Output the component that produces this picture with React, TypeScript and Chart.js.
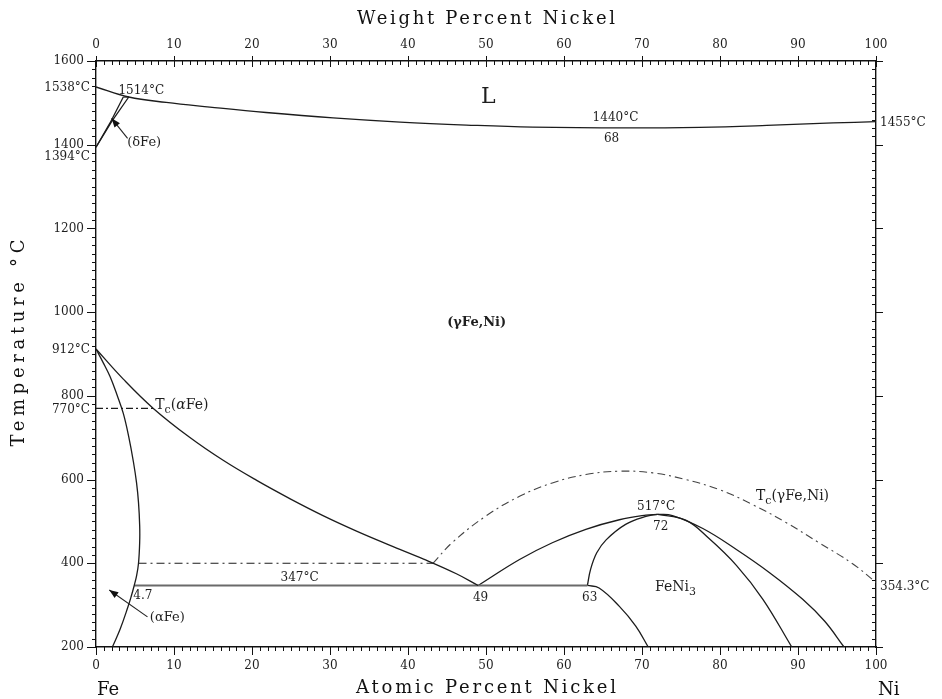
import React, { useEffect, useRef } from 'react';
import { Chart, registerables } from 'chart.js';

Chart.register(...registerables);

type P = [number, number];

// ---- axes ----
const ATOMIC_TICKS = [0, 10, 20, 30, 40, 50, 60, 70, 80, 90, 100];
const WEIGHT_TICKS = [0, 10, 20, 30, 40, 50, 60, 70, 80, 90, 100];
const TEMP_TICKS = [200, 400, 600, 800, 1000, 1200, 1400, 1600];
const X_MINOR_STEP = 1;
const T_MINOR_STEP = 20;

// ---- phase boundaries (at.% Ni, °C) ----
const liquidus: P[] = [[0, 1538], [4.2, 1514], [9, 1501], [14.6, 1490], [21.8, 1477], [30.4, 1464], [39, 1454], [47.5, 1447], [56, 1442], [68, 1440], [77.4, 1441.5], [86, 1446], [94.5, 1452], [100, 1455]];
const deltaSolvus: P[] = [[0, 1394], [1.8, 1452], [3.5, 1514]];
const gammaDeltaBoundary: P[] = [[0, 1394], [2.0, 1455], [4.2, 1514]];
const peritectic: P[] = [[3.5, 1514], [4.2, 1514]];
const alphaBoundary: P[] = [[0, 912], [0.9, 880], [1.8, 846], [2.7, 802], [3.5, 758], [4.2, 702], [4.8, 642], [5.2, 592], [5.45, 545], [5.6, 490], [5.6, 450], [5.45, 400], [5.2, 370], [4.9, 347], [4.5, 320], [4.1, 296], [3.1, 243], [2.1, 200]];
const gammaAlphaBoundary: P[] = [[0, 912], [3.5, 840], [7.35, 770], [12, 701], [16.3, 646], [20.6, 598], [24.9, 554], [29.1, 514], [33.4, 477], [37.7, 443], [42, 410], [46.2, 375], [49, 347]];
const eutectoid: P[] = [[4.9, 347], [63, 347]];
const curieAlpha: P[] = [[0, 770], [7.35, 770]];
const magneticLine400: P[] = [[5.45, 400], [43.2, 400]];
const curieGamma: P[] = [[43.2, 400], [45.7, 450], [50, 513], [54.3, 560], [58.5, 592], [62.8, 612], [67.1, 620], [71.4, 616], [75.6, 600], [79.9, 576], [84.2, 540], [88.5, 497], [92.7, 449], [97, 399], [100, 354.3]];
const gammaFeNi3Left: P[] = [[49, 347], [54.3, 409], [58.5, 449], [62.8, 481], [67.1, 504], [70.5, 515], [72, 517]];
const gammaFeNi3Right: P[] = [[72, 517], [73.9, 514], [77.8, 483], [82.1, 433], [86.4, 377], [90.6, 314], [93.4, 262], [95.9, 200]];
const feNi3Left: P[] = [[63, 347], [63.4, 385], [64.2, 425], [65.4, 456], [67.9, 493], [70.5, 512], [72, 517]];
const feNi3Right: P[] = [[72, 517], [75.6, 503], [78.6, 459], [82.1, 395], [85.5, 314], [89.2, 200]];
const feNi3Lower: P[] = [[63, 347], [64.5, 341], [67.1, 297], [69.2, 250], [70.8, 200]];

const FONT = '"DejaVu Serif", "Liberation Serif", serif';
const INK = '#1e1e1e';

interface Curve { name: string; pts: P[]; dash?: number[]; width?: number; color?: string; tension?: number }
const curves: Curve[] = [
  { name: 'liquidus', pts: liquidus, tension: 0.4 },
  { name: 'delta solvus', pts: deltaSolvus },
  { name: 'gamma/delta', pts: gammaDeltaBoundary },
  { name: 'peritectic', pts: peritectic },
  { name: 'alpha', pts: alphaBoundary, tension: 0.4 },
  { name: 'gamma/alpha', pts: gammaAlphaBoundary, tension: 0.4 },
  { name: 'eutectoid', pts: eutectoid, width: 2, color: '#6a6a6a' },
  { name: 'Tc alpha', pts: curieAlpha, dash: [7, 3, 2, 3], width: 1.1 },
  { name: '400', pts: magneticLine400, dash: [8, 4, 2, 4], width: 1.1 },
  { name: 'Tc gamma', pts: curieGamma, dash: [8, 4, 2, 4], width: 1.1, tension: 0.4, color: '#444' },
  { name: 'gamma/FeNi3 L', pts: gammaFeNi3Left, tension: 0.4 },
  { name: 'gamma/FeNi3 R', pts: gammaFeNi3Right, tension: 0.4 },
  { name: 'FeNi3 L', pts: feNi3Left, tension: 0.4 },
  { name: 'FeNi3 R', pts: feNi3Right, tension: 0.4 },
  { name: 'FeNi3 lower', pts: feNi3Lower, tension: 0.4 },
];

type Run = { t: string; sub?: boolean; italic?: boolean };

function drawRuns(ctx: CanvasRenderingContext2D, runs: Run[], x: number, y: number, size: number, bold: boolean, align: 'left' | 'center') {
  const fontOf = (r: Run) => `${r.italic ? 'italic ' : ''}${bold ? 'bold ' : ''}${r.sub ? Math.round(size * 0.75) : size}px ${FONT}`;
  let total = 0;
  for (const r of runs) { ctx.font = fontOf(r); total += ctx.measureText(r.t).width; }
  let cx = align === 'center' ? x - total / 2 : x;
  ctx.textAlign = 'left';
  ctx.textBaseline = 'middle';
  for (const r of runs) {
    ctx.font = fontOf(r);
    ctx.fillText(r.t, cx, r.sub ? y + size * 0.35 : y);
    cx += ctx.measureText(r.t).width;
  }
}

function spacedText(ctx: CanvasRenderingContext2D, s: string, cx: number, cy: number, font: string, target: number) {
  ctx.font = font;
  (ctx as any).letterSpacing = '0px';
  const w = ctx.measureText(s).width;
  const sp = Math.max(0, (target - w) / (s.length - 1));
  (ctx as any).letterSpacing = `${sp}px`;
  ctx.textAlign = 'left';
  ctx.textBaseline = 'middle';
  ctx.fillText(s, cx - target / 2, cy);
  (ctx as any).letterSpacing = '0px';
}

function arrow(ctx: CanvasRenderingContext2D, x1: number, y1: number, x2: number, y2: number) {
  ctx.beginPath(); ctx.moveTo(x1, y1); ctx.lineTo(x2, y2); ctx.stroke();
  const a = Math.atan2(y2 - y1, x2 - x1);
  const L = 9, W = 3.5;
  ctx.beginPath();
  ctx.moveTo(x2, y2);
  ctx.lineTo(x2 - L * Math.cos(a) + W * Math.sin(a), y2 - L * Math.sin(a) - W * Math.cos(a));
  ctx.lineTo(x2 - L * Math.cos(a) - W * Math.sin(a), y2 - L * Math.sin(a) + W * Math.cos(a));
  ctx.closePath(); ctx.fill();
}

const diagramPlugin = {
  id: 'diagram',
  afterDraw(chart: any) {
    const { ctx, chartArea: a, scales } = chart;
    const xs = scales.x, xt = scales.x2, ys = scales.y;
    const X = (v: number) => xs.getPixelForValue(v);
    const Y = (v: number) => ys.getPixelForValue(v);
    ctx.save();
    ctx.strokeStyle = '#111';
    ctx.fillStyle = INK;
    ctx.lineWidth = 1;
    const seg = (x1: number, y1: number, x2: number, y2: number) => { ctx.beginPath(); ctx.moveTo(x1, y1); ctx.lineTo(x2, y2); ctx.stroke(); };
    // x ticks
    for (let v = 0; v <= 100; v += X_MINOR_STEP) {
      const major = ATOMIC_TICKS.includes(v);
      const pb = Math.round(X(v)) + 0.5;
      const pt = Math.round(xt.getPixelForValue(v)) + 0.5;
      if (major) { seg(pb, a.bottom, pb, a.bottom + 8); seg(pt, a.top - 5, pt, a.top + 6); }
      else { seg(pb, a.bottom, pb, a.bottom + 4); seg(pt, a.top, pt, a.top + 4); }
    }
    // T ticks
    for (let t = 200; t <= 1600; t += T_MINOR_STEP) {
      const major = TEMP_TICKS.includes(t);
      const py = Math.round(Y(t)) + 0.5;
      if (major) { seg(a.left - 9, py, a.left, py); seg(a.right, py, a.right + 7, py); }
      else { seg(a.left - 4, py, a.left, py); seg(a.right - 4, py, a.right, py); }
    }

    // axis titles
    ctx.fillStyle = '#111';
    spacedText(ctx, 'Weight Percent Nickel', (a.left + a.right) / 2, 19, `18px ${FONT}`, 258);
    spacedText(ctx, 'Atomic Percent Nickel', (a.left + a.right) / 2, 688, `18px ${FONT}`, 260);
    ctx.save();
    ctx.translate(19, 343);
    ctx.rotate(-Math.PI / 2);
    spacedText(ctx, 'Temperature °C', 0, 0, `18px ${FONT}`, 207);
    ctx.restore();
    ctx.font = `18px ${FONT}`;
    ctx.textAlign = 'left'; ctx.textBaseline = 'middle';
    ctx.fillText('Fe', a.left + 1, 690);
    ctx.fillText('Ni', a.right + 2, 690);

    // margin temperature labels
    ctx.fillStyle = INK;
    ctx.font = `12px ${FONT}`;
    ctx.textAlign = 'right';
    ctx.fillText('1538°C', a.left - 6, Y(1538) + 1);
    ctx.fillText('1394°C', a.left - 6, Y(1394) + 10);
    ctx.fillText('912°C', a.left - 6, Y(912) + 1);
    ctx.fillText('770°C', a.left - 6, Y(770) + 1);
    ctx.textAlign = 'left';
    ctx.fillText('1455°C', a.right + 4, Y(1455) + 1);
    ctx.fillText('354.3°C', a.right + 4, Y(354.3) + 4);

    // in-plot labels
    const txt = (s: string, x: number, t: number, size = 12, align: 'left' | 'center' = 'center', bold = false) =>
      drawRuns(ctx, [{ t: s }], X(x), Y(t), size, bold, align);
    txt('1514°C', 5.8, 1528);
    txt('L', 50.3, 1514, 22);
    txt('1440°C', 66.6, 1464);
    txt('68', 66.1, 1413);
    txt('(δFe)', 4.0, 1405, 13, 'left');
    drawRuns(ctx, [{ t: '(' }, { t: 'γ' }, { t: 'Fe,Ni)' }], X(48.8), Y(976), 13, true, 'center');
    drawRuns(ctx, [{ t: 'T' }, { t: 'c', sub: true }, { t: '(' }, { t: 'α', italic: true }, { t: 'Fe)' }], X(7.6), Y(778), 14, false, 'left');
    drawRuns(ctx, [{ t: 'T' }, { t: 'c', sub: true }, { t: '(γFe,Ni)' }], X(84.6), Y(560), 14, false, 'left');
    txt('517°C', 71.8, 534);
    txt('72', 72.4, 488);
    drawRuns(ctx, [{ t: 'FeNi' }, { t: '3', sub: true }], X(74.3), Y(342), 14, false, 'center');
    txt('347°C', 26.1, 364);
    txt('4.7', 6.0, 323);
    txt('49', 49.3, 317);
    txt('63', 63.3, 317);
    txt('(αFe)', 6.9, 270, 13, 'left');

    // pointer arrows
    ctx.strokeStyle = '#222';
    ctx.fillStyle = '#111';
    ctx.lineWidth = 1.1;
    arrow(ctx, X(4.05), Y(1415), X(2.0), Y(1463));
    arrow(ctx, X(6.6), Y(272), X(1.7), Y(336));
    ctx.restore();
  },
};

export default function App() {
  const ref = useRef<HTMLCanvasElement>(null);
  useEffect(() => {
    document.body.style.margin = '0';
    const canvas = ref.current!;
    const tickFont = { family: FONT, size: 12 };
    const noGrid = { display: false, drawTicks: false };
    const border = { display: true, color: '#111', width: 1.4 };
    const plain = (v: any) => String(v);
    const chart = new Chart(canvas, {
      type: 'scatter',
      data: {
        datasets: curves.map((c) => ({
          label: c.name,
          data: c.pts.map(([x, y]) => ({ x, y })),
          showLine: true,
          borderColor: c.color ?? '#1c1c1c',
          borderWidth: c.width ?? 1.3,
          borderDash: c.dash ?? [],
          tension: c.tension ?? 0,
          pointRadius: 0,
          pointHoverRadius: 0,
          fill: false,
        })),
      },
      options: {
        responsive: false,
        animation: false,
        events: [],
        layout: { padding: 0 },
        plugins: { legend: { display: false }, tooltip: { enabled: false } },
        scales: {
          x: {
            type: 'linear', position: 'bottom', min: 0, max: 100,
            afterBuildTicks: (s: any) => { s.ticks = ATOMIC_TICKS.map((v) => ({ value: v })); },
            afterFit: (s: any) => { s.height = 52; },
            ticks: { font: tickFont, color: INK, padding: 12, maxRotation: 0, autoSkip: false, callback: plain },
            grid: noGrid, border,
          },
          x2: {
            type: 'linear', position: 'top', min: 0, max: 100,
            afterBuildTicks: (s: any) => { s.ticks = WEIGHT_TICKS.map((v) => ({ value: v })); },
            afterFit: (s: any) => { s.height = 61; },
            ticks: { font: tickFont, color: INK, padding: 9, maxRotation: 0, autoSkip: false, callback: plain },
            grid: noGrid, border,
          },
          y: {
            type: 'linear', position: 'left', min: 200, max: 1600,
            afterBuildTicks: (s: any) => { s.ticks = TEMP_TICKS.map((v) => ({ value: v })); },
            afterFit: (s: any) => { s.width = 96; },
            ticks: { font: tickFont, color: INK, padding: 12, callback: plain },
            grid: noGrid, border,
          },
          y2: {
            type: 'linear', position: 'right', min: 200, max: 1600,
            afterFit: (s: any) => { s.width = 66; },
            ticks: { display: false },
            grid: noGrid, border,
          },
        },
      } as any,
      plugins: [diagramPlugin],
    });
    return () => chart.destroy();
  }, []);
  return (
    <div style={{ width: 942, height: 699, background: '#fff' }}>
      <canvas ref={ref} width={942} height={699} style={{ display: 'block' }} />
    </div>
  );
}
